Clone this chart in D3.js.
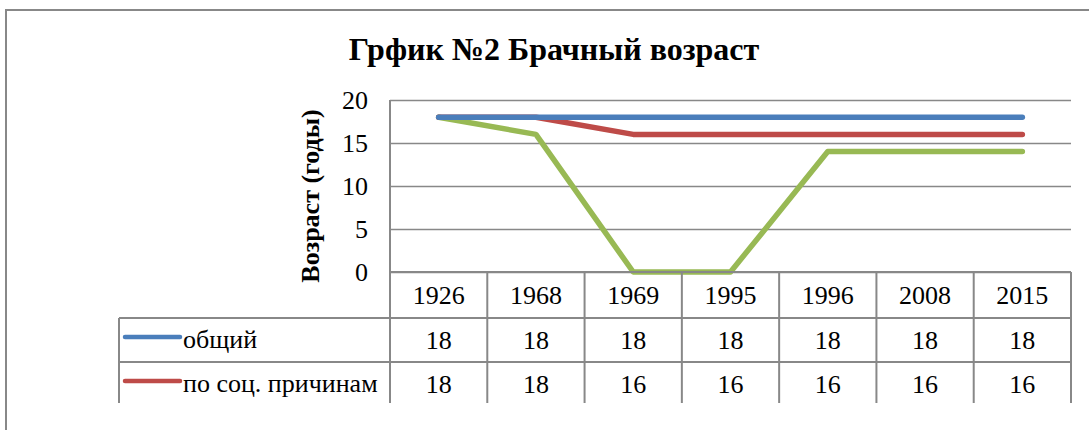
<!DOCTYPE html>
<html>
<head>
<meta charset="utf-8">
<script src="https://cdn.jsdelivr.net/npm/d3@7"></script>
<style>
  body { margin: 0; background: #fff; }
</style>
</head>
<body>
<div id="chart"></div>
<script>
// data
const years = ['1926', '1968', '1969', '1995', '1996', '2008', '2015'];
const obshchiy = [18, 18, 18, 18, 18, 18, 18];
const poSoc = [18, 18, 16, 16, 16, 16, 16];
const osobye = [18, 16, 0, 0, 14, 14, 14];
const seriesNames = ['общий', 'по соц. причинам', 'в особых случаях'];
const seriesColors = ['#4a7ebb', '#be4b48', '#98b954'];
const yTicks = [0, 5, 10, 15, 20];

document.addEventListener('DOMContentLoaded', function () {
  const w = 1089, h = 430;
  const left = 390, right = 1071, top = 100, bottom = 272;
  const gray = '#888888';
  const font = '"Liberation Serif", "Times New Roman", serif';

  const svg = d3.select('#chart').append('svg')
    .attr('width', w)
    .attr('height', h)
    .style('font-family', font);

  // outer frame (only left and top edges visible)
  svg.append('path')
    .attr('d', 'M6,430 L6,10 L1089,10')
    .attr('fill', 'none')
    .attr('stroke', gray)
    .attr('stroke-width', 2);

  // title
  svg.append('text')
    .attr('x', 554)
    .attr('y', 60)
    .attr('text-anchor', 'middle')
    .style('font-family', font)
    .attr('font-size', 32)
    .attr('font-weight', 'bold')
    .text('Грфик №2 Брачный возраст');

  const xScale = d3.scaleBand().domain(years).range([left, right]);
  const yScale = d3.scaleLinear().domain([0, 20]).range([bottom, top]);

  // gridlines
  svg.append('g')
    .attr('transform', 'translate(' + left + ',0)')
    .call(d3.axisLeft(yScale).tickValues(yTicks).tickSize(-(right - left)).tickFormat(''))
    .call(g => g.select('.domain').remove())
    .call(g => g.selectAll('line').attr('stroke', gray).attr('stroke-width', 1.5));

  // vertical axis line
  svg.append('line')
    .attr('x1', left).attr('x2', left)
    .attr('y1', top).attr('y2', bottom)
    .attr('stroke', gray).attr('stroke-width', 2);

  // y tick labels
  svg.append('g')
    .attr('transform', 'translate(' + left + ',0)')
    .call(d3.axisLeft(yScale).tickValues(yTicks).tickSize(0).tickPadding(22))
    .call(g => g.select('.domain').remove())
    .call(g => g.selectAll('text')
      .style('font-family', font)
      .attr('font-size', 26)
      .attr('fill', '#000'));

  // y axis title
  svg.append('text')
    .attr('transform', 'translate(319,' + ((top + bottom) / 2 + 10) + ') rotate(-90)')
    .attr('text-anchor', 'middle')
    .style('font-family', font)
    .attr('font-size', 26)
    .attr('font-weight', 'bold')
    .text('Возраст (годы)');

  // lines
  const series = [obshchiy, poSoc, osobye];
  const line = d3.line()
    .x((d, i) => xScale(years[i]) + xScale.bandwidth() / 2)
    .y(d => yScale(d));

  // draw green first so blue/red sit on top like the reference
  [2, 1, 0].forEach(k => {
    svg.append('path')
      .datum(series[k])
      .attr('d', line)
      .attr('fill', 'none')
      .attr('stroke', seriesColors[k])
      .attr('stroke-width', 5.5)
      .attr('stroke-linejoin', 'round')
      .attr('stroke-linecap', 'round');
  });

  // data table: only the rows that fit above the cut-off edge are shown
  const headH = 46, rowH = 44;
  const labelLeft = 119;
  const tBottom = 403;
  const rowTop = i => bottom + headH + i * rowH;
  const shown = series.filter((s, k) => rowTop(k) + rowH <= tBottom + 4);
  const table = svg.append('g').style('font-family', font);

  // header row: years
  table.selectAll('.year')
    .data(years)
    .enter()
    .append('text')
    .attr('class', 'year')
    .attr('x', d => xScale(d) + xScale.bandwidth() / 2)
    .attr('y', bottom + headH / 2)
    .attr('dy', '0.35em')
    .attr('text-anchor', 'middle')
    .attr('font-size', 26)
    .text(d => d);

  shown.forEach((vals, k) => {
    const y0 = rowTop(k);
    // legend key
    table.append('line')
      .attr('x1', 125).attr('x2', 180)
      .attr('y1', y0 + rowH / 2 - 3).attr('y2', y0 + rowH / 2 - 3)
      .attr('stroke', seriesColors[k])
      .attr('stroke-width', 4.5)
      .attr('stroke-linecap', 'round');
    table.append('text')
      .attr('x', 183)
      .attr('y', y0 + rowH / 2)
      .attr('dy', '0.3em')
      .attr('font-size', 26)
      .text(seriesNames[k]);
    table.selectAll('.v' + k)
      .data(vals)
      .enter()
      .append('text')
      .attr('class', 'v' + k)
      .attr('x', (d, i) => xScale(years[i]) + xScale.bandwidth() / 2)
      .attr('y', y0 + rowH / 2)
      .attr('dy', '0.35em')
      .attr('text-anchor', 'middle')
      .attr('font-size', 26)
      .text(d => d);
  });

  // table grid
  const hLines = [bottom];
  for (let k = 0; k < shown.length; k++) hLines.push(rowTop(k));
  table.selectAll('.hl')
    .data(hLines)
    .enter()
    .append('line')
    .attr('x1', (d, i) => i === 0 ? left : labelLeft)
    .attr('x2', right)
    .attr('y1', d => d).attr('y2', d => d)
    .attr('stroke', gray).attr('stroke-width', 2);

  const vLines = years.map(d => xScale(d)).concat([right]);
  table.selectAll('.vl')
    .data(vLines)
    .enter()
    .append('line')
    .attr('x1', d => d).attr('x2', d => d)
    .attr('y1', bottom).attr('y2', tBottom)
    .attr('stroke', gray).attr('stroke-width', 2);
  table.append('line')
    .attr('x1', labelLeft).attr('x2', labelLeft)
    .attr('y1', rowTop(0)).attr('y2', tBottom)
    .attr('stroke', gray).attr('stroke-width', 2);
});
</script>
</body>
</html>
